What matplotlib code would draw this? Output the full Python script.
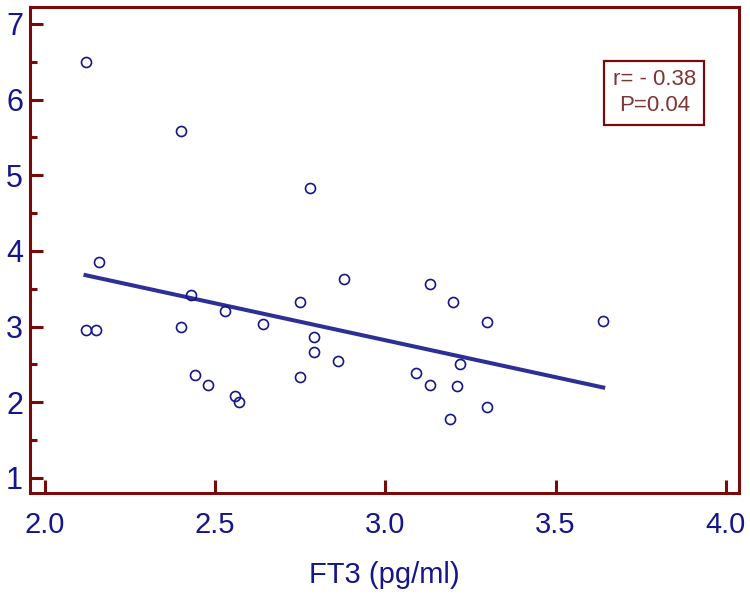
import numpy as np
import matplotlib
matplotlib.use("Agg")
import matplotlib.pyplot as plt

plt.rcParams['font.family'] = ['Liberation Sans', 'DejaVu Sans']

# FT3 (pg/ml) vs y value
ft3 = [2.12, 2.40, 2.78, 2.16, 2.43, 2.88, 3.13, 2.75, 3.20, 2.53,
       3.30, 3.64, 2.64, 2.40, 2.12, 2.15, 2.79, 2.79, 2.86, 3.22,
       2.44, 2.75, 3.09, 2.48, 3.13, 3.21, 2.56, 2.57, 3.30, 3.19]
yval = [6.50, 5.58, 4.83, 3.85, 3.42, 3.63, 3.56, 3.32, 3.32, 3.20,
        3.06, 3.07, 3.04, 3.00, 2.95, 2.95, 2.86, 2.67, 2.55, 2.51,
        2.36, 2.33, 2.39, 2.23, 2.23, 2.21, 2.08, 2.01, 1.94, 1.78]
xticks = [2.0, 2.5, 3.0, 3.5, 4.0]
yticks = [1, 2, 3, 4, 5, 6, 7]
stats_text = "r= - 0.38\nP=0.04"

navy = '#14168a'
maroon = '#7a0a0a'

fig = plt.figure(figsize=(7.5, 5.97), dpi=100)
ax = fig.add_axes([0.04, 0.174, 0.945, 0.814])

ax.plot(ft3, yval, 'o', ms=7.2, mfc='none', mec=navy, mew=1.2, zorder=3)

# regression line over data range
k, b = np.polyfit(ft3, yval, 1)
xl = np.array([min(ft3), max(ft3)])
ax.plot(xl, k * xl + b, color='#2e2f96', lw=2.9, zorder=2)

ax.set_xlim(1.957, 4.038)
ax.set_ylim(0.80, 7.22)
ax.set_xticks(xticks)
ax.set_xticklabels(['%.1f' % t for t in xticks])
ax.set_yticks(yticks)
ax.set_yticks(np.arange(1.5, 7, 1.0), minor=True)

for s in ax.spines.values():
    s.set_color(maroon)
    s.set_linewidth(2.2)

ax.tick_params(axis='both', which='major', direction='in', length=9.5,
               width=2.2, color=maroon, labelcolor=navy)
ax.tick_params(axis='y', which='minor', direction='in', length=5,
               width=2.2, color=maroon)
ax.tick_params(axis='x', labelsize=21, pad=13)
ax.tick_params(axis='y', labelsize=22, pad=5)

ax.set_xlabel('FT3 (pg/ml)', fontsize=21, color=navy, labelpad=16)

ax.text(0.881, 0.824, stats_text, transform=ax.transAxes, ha='center', va='center',
        fontsize=16, color='#7d3535', linespacing=1.3,
        bbox=dict(boxstyle='square,pad=0.38', fc='white', ec=maroon, lw=1.6))

fig.savefig('out.png', dpi=100)
